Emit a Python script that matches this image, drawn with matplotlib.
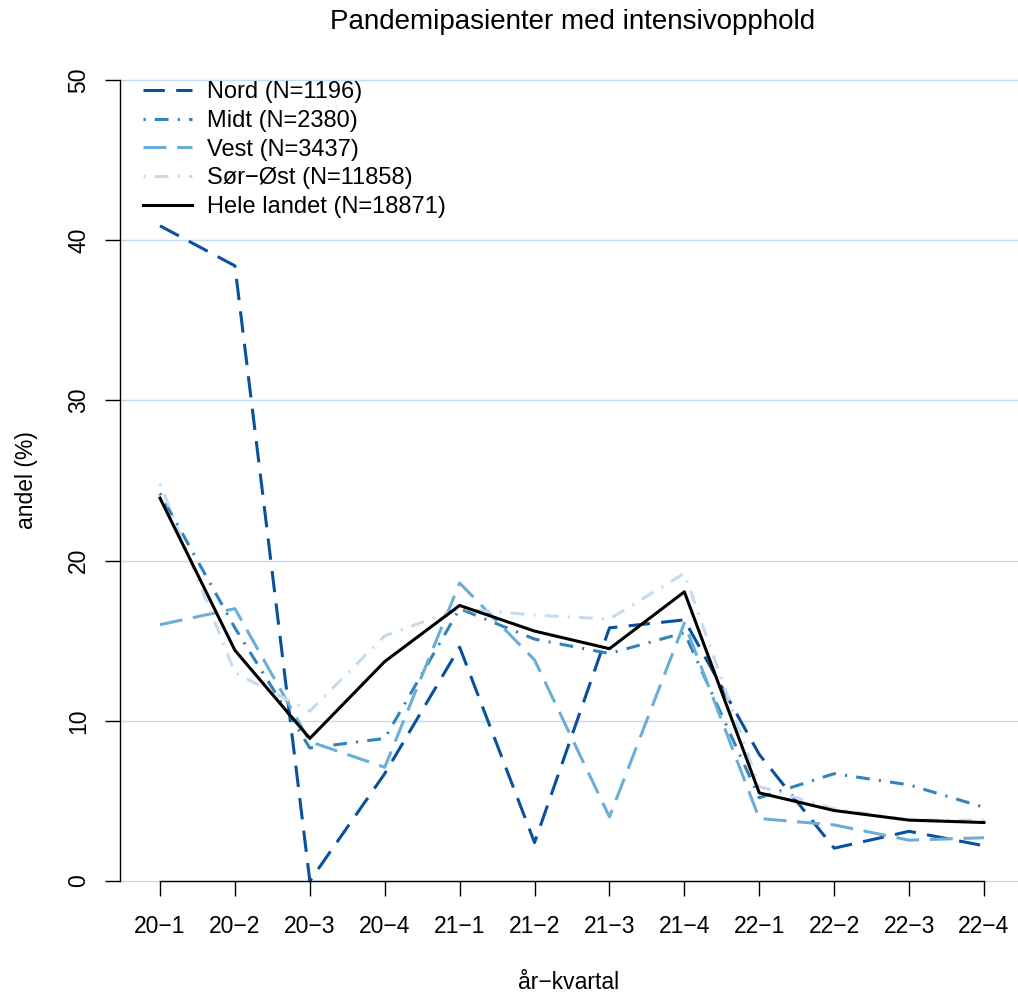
import numpy as np
import matplotlib
matplotlib.use("Agg")
import matplotlib.pyplot as plt

plt.rcParams['font.family'] = ['Liberation Sans', 'DejaVu Sans']

kvartal = ["20−1", "20−2", "20−3", "20−4", "21−1", "21−2",
           "21−3", "21−4", "22−1", "22−2", "22−3", "22−4"]

nord = [40.9, 38.4, 0.0, 6.7, 14.6, 2.4, 15.8, 16.3, 7.9, 2.05, 3.1, 2.2]
midt = [24.2, 15.8, 8.3, 8.9, 17.0, 15.1, 14.2, 15.5, 5.2, 6.7, 6.0, 4.6]
vest = [16.0, 17.0, 8.7, 7.1, 18.6, 13.8, 4.0, 16.1, 3.9, 3.5, 2.55, 2.7]
sorost = [24.8, 13.0, 10.6, 15.3, 17.0, 16.6, 16.35, 19.2, 5.9, 4.5, 3.8, 3.8]
hele = [23.9, 14.4, 8.9, 13.7, 17.2, 15.6, 14.5, 18.05, 5.5, 4.4, 3.8, 3.65]

serier = [
    ("Nord (N=1196)", nord, "#08519C", (0, (7, 3.7))),
    ("Midt (N=2380)", midt, "#3182BD", (0, (0.7, 3, 4.5, 3))),
    ("Vest (N=3437)", vest, "#6BAED6", (0, (7.5, 3.5))),
    ("Sør−Øst (N=11858)", sorost, "#C6DBEF", (0, (0.7, 3, 4.5, 3))),
    ("Hele landet (N=18871)", hele, "black", "solid"),
]

fig = plt.figure(figsize=(10.18, 9.96), dpi=100)
ax = fig.add_axes([120/1018, 1 - 881/996, 1 - 120/1018, (881 - 80)/996])

x = np.arange(1, len(kvartal) + 1)
ax.set_xlim(1 - 40/74.9, 12 + 34/74.9)
ax.set_ylim(0, 50)

for yv in range(0, 51, 10):
    ax.axhline(yv, color="#C6DBEF", lw=1.0, zorder=0, clip_on=False)

for navn, verdier, farge, stil in serier:
    ax.plot(x, verdier, color=farge, linestyle=stil, lw=2.2, label=navn,
            clip_on=False, dash_capstyle="butt")

for s in ["top", "right"]:
    ax.spines[s].set_visible(False)
ax.spines["left"].set_bounds(0, 50)
ax.spines["bottom"].set_bounds(1, 12)
ax.spines["left"].set_linewidth(1.0)
ax.spines["bottom"].set_linewidth(1.0)

ax.set_yticks(range(0, 51, 10))
ax.set_yticklabels([str(v) for v in range(0, 51, 10)], rotation=90, va="center")
ax.set_xticks(x)
ax.set_xticklabels(kvartal)
ax.tick_params(axis="both", length=10.5, width=1.0, labelsize=16.5)
ax.tick_params(axis="x", pad=14)
ax.tick_params(axis="y", pad=11)

ax.set_xlabel("år−kvartal", fontsize=16.5, labelpad=24)
ax.set_ylabel("andel (%)", fontsize=16.5, labelpad=21)
fig.text(573/1018, 1 - 22/996, "Pandemipasienter med intensivopphold",
         ha="center", va="center", fontsize=20)

ax.legend(loc="upper left", bbox_to_anchor=(0.008, 1.018), frameon=False,
          fontsize=17, handlelength=2.1, handletextpad=0.65,
          labelspacing=0.29, borderaxespad=0.3, borderpad=0.35)

fig.savefig("out.png", dpi=100)
